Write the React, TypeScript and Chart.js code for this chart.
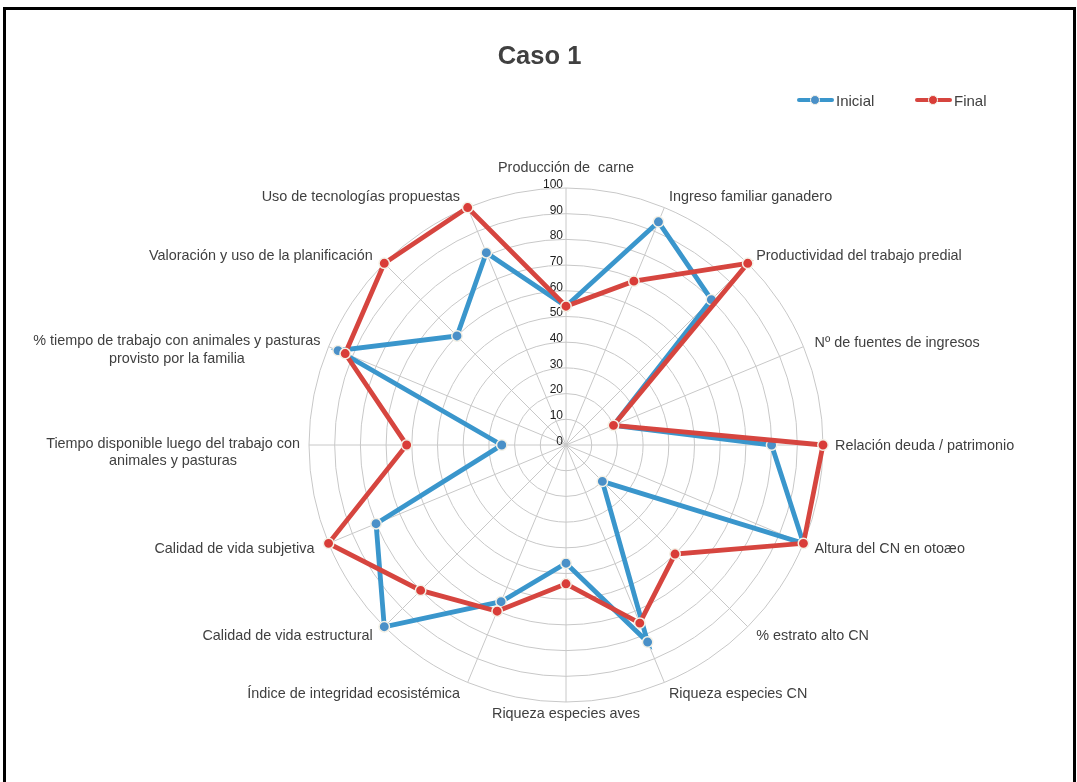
import React, { useEffect, useRef } from "react";
import { Chart, registerables } from "chart.js";

Chart.register(...registerables);

// ---------------- data ----------------
const categories: (string | string[])[] = [
  "Producción de  carne",
  "Ingreso familiar ganadero",
  "Productividad del trabajo predial",
  "Nº de fuentes de ingresos",
  "Relación deuda / patrimonio",
  "Altura del CN en otoæo",
  "% estrato alto CN",
  "Riqueza especies CN",
  "Riqueza especies aves",
  "Índice de integridad ecosistémica",
  "Calidad de vida estructural",
  "Calidad de vida subjetiva",
  ["Tiempo disponible luego del trabajo con", "animales y pasturas"],
  ["% tiempo de trabajo con animales y pasturas", "provisto por la familia"],
  "Valoración y uso de la planificación",
  "Uso de tecnologías propuestas",
];

const inicialValues = [54, 94, 80, 20, 80, 100, 20, 83, 46, 66, 100, 80, 25, 96, 60, 81];
const finalValues = [54, 69, 100, 20, 100, 100, 60, 75, 54, 70, 80, 100, 62, 93, 100, 100];

const seriesNames = ["Inicial", "Final"];
const titleText = "Caso 1";
const scaleMin = 0;
const scaleMax = 100;
const scaleStep = 10;

// ---------------- styles ----------------
const BLUE = "#3A96CC";
const BLUE_PT = "#4A90C8";
const RED = "#D6453F";
const RED_PT = "#D93D38";
const PT_BORDER = "#F4F1E6";
const GRID = "#C8C8C8";
const TEXT = "#404040";
const FONT = '"Liberation Sans", Arial, Helvetica, sans-serif';

const CANVAS_W = 1067;
const CANVAS_H = 772;
const RADAR_CX = 560;
const RADAR_CY = 435;
const RADAR_R = 257;

const pointLabelPlugin = {
  id: "customPointLabels",
  afterDatasetsDraw(chart: any) {
    const scale = chart.scales.r;
    const ctx = chart.ctx;
    const labels = chart.data.labels as (string | string[])[];
    const n = labels.length;
    ctx.save();
    ctx.font = `14.4px ${FONT}`;
    ctx.fillStyle = TEXT;
    ctx.textBaseline = "middle";
    ctx.textAlign = "center";
    const lh = 17.5;
    for (let i = 0; i < n; i++) {
      const lab = labels[i];
      const lines = Array.isArray(lab) ? lab : [lab];
      const p = scale.getPointPosition(i, scale.drawingArea + 12);
      const deg = (i * 360) / n;
      let x = p.x;
      let y = p.y;
      const widths = lines.map((l: string) => ctx.measureText(l).width);
      const maxW = Math.max(...widths);
      let cx = x;
      if (deg === 0) {
        y -= 8;
      } else if (deg === 180) {
        cx = x;
      } else if (deg < 180) {
        cx = x + maxW / 2;
        y += 1;
      } else {
        const shift = lines.length > 1 ? 3 : -3;
        cx = x + shift - maxW / 2;
        y += 1;
      }
      lines.forEach((l: string, k: number) => {
        const ly = lines.length > 1 ? y + k * lh - 2 : y;
        ctx.fillText(l, cx, ly);
      });
    }
    ctx.restore();
  },
};

const tickLabelPlugin = {
  id: "customTickLabels",
  beforeDatasetsDraw(chart: any) {
    const scale = chart.scales.r;
    const ctx = chart.ctx;
    ctx.save();
    ctx.font = `12px ${FONT}`;
    ctx.fillStyle = "#1E1E1E";
    ctx.textAlign = "right";
    ctx.textBaseline = "middle";
    scale.ticks.forEach((t: any) => {
      const d = scale.getDistanceFromCenterForValue(t.value);
      ctx.fillText(String(t.value), scale.xCenter - 3, scale.yCenter - d - 3.5);
    });
    ctx.restore();
  },
};

function LegendItem({ color, ptColor, label, left }: { color: string; ptColor: string; label: string; left: number }) {
  return (
    <div style={{ position: "absolute", left, top: 80, height: 20, display: "flex", alignItems: "center" }}>
      <div style={{ position: "relative", width: 37, height: 4, background: color, borderRadius: 2 }}>
        <div
          style={{
            position: "absolute",
            left: 13,
            top: -3.5,
            width: 8,
            height: 8,
            borderRadius: "50%",
            background: ptColor,
            border: `1.5px solid ${PT_BORDER}`,
          }}
        />
      </div>
      <span style={{ marginLeft: 2, font: `15px ${FONT}`, color: TEXT }}>{label}</span>
    </div>
  );
}

export default function App() {
  const ref = useRef<HTMLCanvasElement | null>(null);

  useEffect(() => {
    if (!ref.current) return;
    const chart = new Chart(ref.current, {
      type: "radar",
      data: {
        labels: categories as any,
        datasets: [
          {
            label: seriesNames[0],
            data: inicialValues,
            borderColor: BLUE,
            backgroundColor: "rgba(0,0,0,0)",
            borderWidth: 4.8,
            fill: false,
            pointRadius: 5.2,
            pointBackgroundColor: BLUE_PT,
            pointBorderColor: PT_BORDER,
            pointBorderWidth: 1.5,
            order: 1,
            clip: false as any,
          },
          {
            label: seriesNames[1],
            data: finalValues,
            borderColor: RED,
            backgroundColor: "rgba(0,0,0,0)",
            borderWidth: 4.8,
            fill: false,
            pointRadius: 5.2,
            pointBackgroundColor: RED_PT,
            pointBorderColor: PT_BORDER,
            pointBorderWidth: 1.5,
            order: 0,
            clip: false as any,
          },
        ],
      },
      options: {
        responsive: false,
        animation: false,
        layout: { padding: 0 },
        plugins: {
          legend: { display: false },
          tooltip: { enabled: false },
          title: {
            display: true,
            text: titleText,
            color: TEXT,
            font: { family: FONT, size: 25.5, weight: "bold" },
            padding: { top: 32, bottom: 10 },
          },
        },
        elements: { line: { tension: 0 } },
        scales: {
          r: {
            min: scaleMin,
            max: scaleMax,
            beginAtZero: true,
            ticks: { display: false, stepSize: scaleStep },
            pointLabels: { display: false },
            grid: { circular: true, color: GRID, lineWidth: 1 },
            angleLines: { display: true, color: GRID, lineWidth: 1 },
            afterFit: (scale: any) => {
              scale.xCenter = RADAR_CX;
              scale.yCenter = RADAR_CY;
              scale.drawingArea = RADAR_R;
            },
          } as any,
        },
      },
      plugins: [tickLabelPlugin, pointLabelPlugin],
    });
    return () => chart.destroy();
  }, []);

  return (
    <div
      style={{
        position: "absolute",
        left: 3,
        top: 7,
        width: 1073,
        height: 775,
        boxSizing: "border-box",
        borderTop: "3px solid #000",
        borderLeft: "3px solid #000",
        borderRight: "3px solid #000",
        background: "#fff",
        overflow: "hidden",
      }}
    >
      <canvas ref={ref} width={CANVAS_W} height={CANVAS_H} style={{ display: "block", position: "absolute", left: 0, top: 0 }} />
      <LegendItem color={BLUE} ptColor={BLUE_PT} label={seriesNames[0]} left={791} />
      <LegendItem color={RED} ptColor={RED_PT} label={seriesNames[1]} left={909} />
    </div>
  );
}
